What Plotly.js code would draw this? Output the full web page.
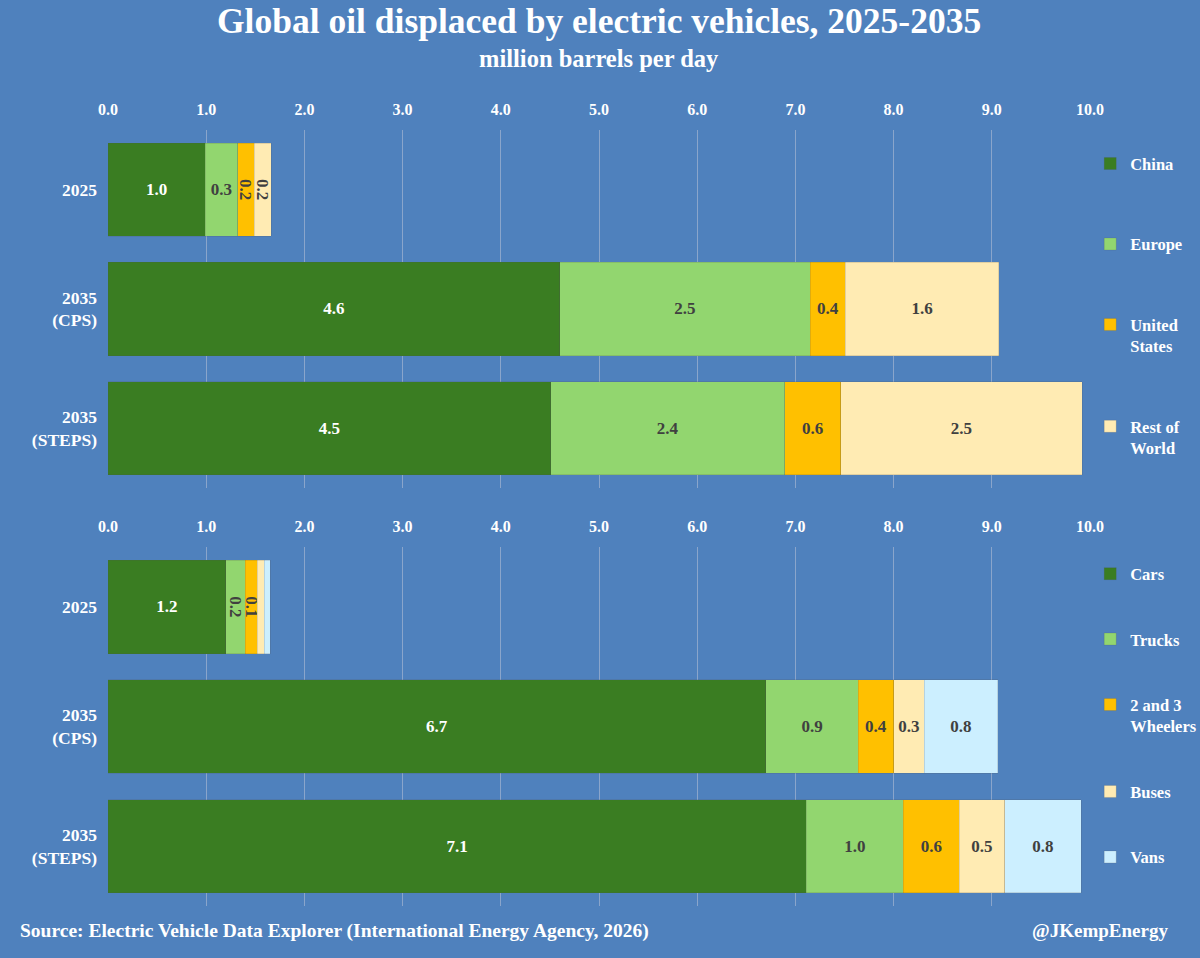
<!DOCTYPE html>
<html>
<head>
<meta charset="utf-8">
<script src="https://cdn.plot.ly/plotly-3.0.1.min.js"></script>
<style>
  body { margin: 0; background: #4f81bd; }
  #chart { width: 1200px; height: 958px; }
</style>
</head>
<body>
<div id="chart"></div>
<script>
const scenarios = ["2025", "2035<br>(CPS)", "2035<br>(STEPS)"];

// top panel: by region
const regions = ["China", "Europe", "United<br>States", "Rest of<br>World"];
const china = [0.99, 4.60, 4.51];
const europe = [0.33, 2.55, 2.38];
const unitedStates = [0.17, 0.36, 0.57];
const restOfWorld = [0.17, 1.56, 2.46];

// bottom panel: by vehicle type
const vehicles = ["Cars", "Trucks", "2 and 3<br>Wheelers", "Buses", "Vans"];
const cars = [1.20, 6.70, 7.11];
const trucks = [0.20, 0.94, 0.99];
const wheelers = [0.12, 0.36, 0.57];
const buses = [0.07, 0.31, 0.46];
const vans = [0.06, 0.75, 0.78];

const xTicks = [0, 1, 2, 3, 4, 5, 6, 7, 8, 9, 10];

const colors = ["#3a7d22", "#92d66f", "#ffc000", "#ffebb3", "#ccefff"];
const font = "'Liberation Serif', 'DejaVu Serif', serif";

function labels(values) {
  // small slivers get no label
  return values.map((v) => (v >= 0.1 ? v.toFixed(1) : ""));
}

function barTrace(name, values, i, axis, legend) {
  return {
    type: "bar",
    orientation: "h",
    name: name,
    x: values,
    y: scenarios,
    xaxis: axis[0],
    yaxis: axis[1],
    legend: legend,
    legendgroup: legend + i,
    marker: { color: colors[i], line: { color: "rgba(80,80,80,0.35)", width: 0.5 } },
    text: labels(values),
    textposition: "inside",
    insidetextanchor: "middle",
    textangle: "auto",
    constraintext: "none",
    insidetextfont: {
      family: font,
      size: 17,
      color: i == 0 ? "#ffffff" : "#404040",
      weight: "bold",
    },
    hoverinfo: "x+name",
  };
}

let data = [];
[china, europe, unitedStates, restOfWorld].forEach((vals, i) => {
  data.push(barTrace(regions[i], vals, i, ["x", "y"], "legend"));
});
[cars, trucks, wheelers, buses, vans].forEach((vals, i) => {
  data.push(barTrace(vehicles[i], vals, i, ["x2", "y2"], "legend2"));
});

function xAxis(anchor) {
  return {
    anchor: anchor,
    side: "top",
    range: [0, 10],
    tickvals: xTicks,
    tickformat: ".1f",
    showgrid: true,
    gridcolor: "#8aa5cb",
    gridwidth: 1,
    zeroline: false,
    showline: false,
    ticks: "",
    ticklabelstandoff: 11,
    tickfont: { family: font, size: 16, color: "#ffffff", weight: "bold" },
    fixedrange: true,
  };
}

function yAxis(domain, anchor) {
  return {
    domain: domain,
    anchor: anchor,
    type: "category",
    categoryarray: scenarios,
    autorange: "reversed",
    showgrid: false,
    zeroline: false,
    showline: false,
    ticks: "",
    ticklabelstandoff: 10,
    tickfont: { family: font, size: 17.5, color: "#ffffff", weight: "bold" },
    fixedrange: true,
  };
}

const legendBase = {
  xref: "container",
  x: 0.9085,
  xanchor: "left",
  yanchor: "top",
  bgcolor: "rgba(0,0,0,0)",
  traceorder: "grouped",
  valign: "top",
  itemwidth: 30,
  itemclick: false,
  font: { family: font, size: 16.5, color: "#ffffff", weight: "bold" },
};

const layout = {
  width: 1200,
  height: 958,
  paper_bgcolor: "#4f81bd",
  plot_bgcolor: "#4f81bd",
  margin: { l: 108, r: 110, t: 130, b: 52 },
  barmode: "stack",
  bargap: 0.22,
  showlegend: true,
  xaxis: xAxis("y"),
  yaxis: yAxis([0.5387, 1], "x"),
  xaxis2: xAxis("y2"),
  yaxis2: yAxis([0, 0.4626], "x2"),
  legend: Object.assign({}, legendBase, { y: 0.979, tracegroupgap: 56 }),
  legend2: Object.assign({}, legendBase, { y: 0.4505, tracegroupgap: 41 }),
  annotations: [
    {
      text: "Global oil displaced by electric vehicles, 2025-2035",
      xref: "paper", yref: "paper", x: 0.5, y: 1, xanchor: "center", yanchor: "bottom",
      yshift: 87, showarrow: false,
      font: { family: font, size: 35.5, color: "#ffffff", weight: "bold" },
    },
    {
      text: "million barrels per day",
      xref: "paper", yref: "paper", x: 0.5, y: 1, xanchor: "center", yanchor: "bottom",
      yshift: 56, showarrow: false,
      font: { family: font, size: 24.5, color: "#ffffff", weight: "bold" },
    },
    {
      text: "Source: Electric Vehicle Data Explorer (International Energy Agency, 2026)",
      xref: "paper", yref: "paper", x: 0, y: 0, xanchor: "left", yanchor: "top",
      xshift: -90, yshift: -12, showarrow: false,
      font: { family: font, size: 19.5, color: "#ffffff", weight: "bold" },
    },
    {
      text: "@JKempEnergy",
      xref: "paper", yref: "paper", x: 1, y: 0, xanchor: "right", yanchor: "top",
      xshift: 80, yshift: -12, showarrow: false,
      font: { family: font, size: 19, color: "#ffffff", weight: "bold" },
    },
  ],
};

Plotly.newPlot("chart", data, layout, { displayModeBar: false, staticPlot: true });
</script>
</body>
</html>
